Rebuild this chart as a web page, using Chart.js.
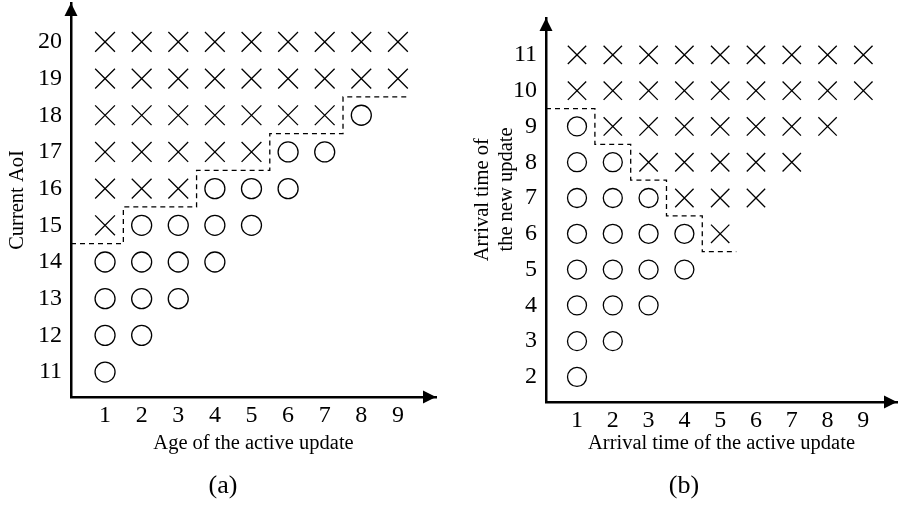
<html>
<head>
    <title>AoI decision regions</title>
    <script src="https://cdn.jsdelivr.net/npm/chart.js"></script>
    <style>
        body { margin: 0; background: white; }
        .panel { position: absolute; top: 0; }
    </style>
</head>
<body>
    <div class="panel" style="left:0px"><canvas id="chart_a" width="449" height="508"></canvas></div>
    <div class="panel" style="left:449px"><canvas id="chart_b" width="449" height="508"></canvas></div>

<script>
    // (a) current AoI against age of the active update
    const age_ticks = [1, 2, 3, 4, 5, 6, 7, 8, 9];
    const aoi_ticks = [11, 12, 13, 14, 15, 16, 17, 18, 19, 20];
    // one entry per AoI row (11..20): columns holding a circle / a cross
    const aoi_circles = [[1], [1, 2], [1, 2, 3], [1, 2, 3, 4], [2, 3, 4, 5], [4, 5, 6], [6, 7], [8], [], []];
    const aoi_crosses = [[], [], [], [], [1], [1, 2, 3], [1, 2, 3, 4, 5], [1, 2, 3, 4, 5, 6, 7],
                         [1, 2, 3, 4, 5, 6, 7, 8, 9], [1, 2, 3, 4, 5, 6, 7, 8, 9]];
    const aoi_edge_x = [0.07, 1.5, 3.5, 5.5, 7.5, 9.33];
    const aoi_edge_y = [14.5, 15.5, 16.5, 17.5, 18.5, 18.5];

    // (b) arrival time of the new update against arrival time of the active update
    const active_ticks = [1, 2, 3, 4, 5, 6, 7, 8, 9];
    const new_ticks = [2, 3, 4, 5, 6, 7, 8, 9, 10, 11];
    const new_circles = [[1], [1, 2], [1, 2, 3], [1, 2, 3, 4], [1, 2, 3, 4], [1, 2, 3], [1, 2], [1], [], []];
    const new_crosses = [[], [], [], [], [5], [4, 5, 6], [3, 4, 5, 6, 7], [2, 3, 4, 5, 6, 7, 8],
                         [1, 2, 3, 4, 5, 6, 7, 8, 9], [1, 2, 3, 4, 5, 6, 7, 8, 9]];
    const new_edge_x = [0.134, 1.5, 2.5, 3.5, 4.5, 5.45];
    const new_edge_y = [9.5, 8.5, 7.5, 6.5, 5.5, 5.5];

    const serif = "'Liberation Serif', 'Times New Roman', serif";
    const nb = n => "\u00a0".repeat(n);

    function to_points(rows, cols) {
        return cols.flatMap((list, i) => list.map(c => ({ x: c, y: rows[i] })));
    }

    // black arrow heads at the ends of both axes
    const axis_arrows = {
        id: "axis_arrows",
        afterDraw(chart) {
            const { ctx, chartArea: { left, top, right, bottom } } = chart;
            ctx.save();
            ctx.fillStyle = "black";
            ctx.beginPath();
            ctx.moveTo(left, top);
            ctx.lineTo(left - 6.5, top + 13);
            ctx.lineTo(left + 6.5, top + 13);
            ctx.closePath();
            ctx.fill();
            ctx.beginPath();
            ctx.moveTo(right, bottom);
            ctx.lineTo(right - 13, bottom - 6.5);
            ctx.lineTo(right - 13, bottom + 6.5);
            ctx.closePath();
            ctx.fill();
            ctx.restore();
        }
    };

    function make_panel(id, p) {
        const ctx = document.getElementById(id).getContext("2d");
        return new Chart(ctx, {
            type: "scatter",
            data: {
                datasets: [
                    {
                        data: p.edge_x.map((x, i) => ({ x: x, y: p.edge_y[i] })),
                        showLine: true,
                        stepped: true,
                        borderColor: "black",
                        borderWidth: 1.3,
                        borderDash: [5, 4],
                        pointRadius: 0,
                        fill: false
                    },
                    {
                        data: to_points(p.rows, p.crosses),
                        pointStyle: "crossRot",
                        pointRadius: p.cross_r,
                        borderColor: "black",
                        backgroundColor: "black",
                        borderWidth: 1.3
                    },
                    {
                        data: to_points(p.rows, p.circles),
                        pointStyle: "circle",
                        pointRadius: p.circle_r,
                        borderColor: "black",
                        backgroundColor: "white",
                        borderWidth: 1.3
                    }
                ]
            },
            options: {
                responsive: false,
                animation: false,
                events: [],
                layout: { padding: p.padding, autoPadding: false },
                plugins: {
                    legend: { display: false },
                    tooltip: { enabled: false },
                    title: {
                        display: true,
                        position: "bottom",
                        text: p.caption,
                        color: "black",
                        font: { family: serif, size: 26, weight: "normal" },
                        padding: { top: 0, bottom: 6 }
                    }
                },
                scales: {
                    x: {
                        type: "linear",
                        min: p.x_min,
                        max: p.x_max,
                        afterBuildTicks: s => { s.ticks = p.x_ticks.map(v => ({ value: v })); },
                        // fixed axis band, no extra room for end labels
                        afterFit: s => { s.height = p.x_height; s.paddingLeft = 0; s.paddingRight = 0; },
                        grid: { display: false, drawTicks: false },
                        border: { display: true, color: "black", width: 2.5 },
                        ticks: { color: "black", font: { family: serif, size: 24 }, padding: 4, maxRotation: 0 },
                        title: {
                            display: true,
                            text: p.x_title,
                            color: "black",
                            font: { family: serif, size: 20.5 },
                            padding: { top: 0, bottom: 15 }
                        }
                    },
                    y: {
                        type: "linear",
                        min: p.y_min,
                        max: p.y_max,
                        afterBuildTicks: s => { s.ticks = p.y_ticks.map(v => ({ value: v })); },
                        afterFit: s => { s.width = p.y_width; s.paddingTop = 0; s.paddingBottom = 0; },
                        grid: { display: false, drawTicks: false },
                        border: { display: true, color: "black", width: 2.5 },
                        ticks: { color: "black", font: { family: serif, size: 24 }, padding: 9 },
                        title: {
                            display: true,
                            text: p.y_title,
                            color: "black",
                            font: { family: serif, size: 20.5, lineHeight: 1.17 },
                            padding: { top: p.y_title_pad, bottom: 0 }
                        }
                    }
                }
            },
            plugins: [axis_arrows]
        });
    }

    make_panel("chart_a", {
        rows: aoi_ticks, circles: aoi_circles, crosses: aoi_crosses,
        edge_x: aoi_edge_x, edge_y: aoi_edge_y,
        x_ticks: age_ticks, y_ticks: aoi_ticks,
        x_min: 0.07, x_max: 10.04, y_min: 10.32, y_max: 21.06,
        x_title: "Age of the active update", y_title: "Current AoI", caption: "(a)",
        padding: { left: 10, right: 13, top: 3, bottom: 0 },
        x_height: 73.8, y_width: 61, y_title_pad: -4,
        cross_r: 14, circle_r: 10
    });

    // leading spaces push both title lines up so they end level
    make_panel("chart_b", {
        rows: new_ticks, circles: new_circles, crosses: new_crosses,
        edge_x: new_edge_x, edge_y: new_edge_y,
        x_ticks: active_ticks, y_ticks: new_ticks,
        x_min: 0.134, x_max: 9.94, y_min: 1.30, y_max: 12.03,
        x_title: "Arrival time of the active update",
        y_title: [nb(4) + "Arrival time of", nb(8) + "the new update"],
        caption: "(b)",
        padding: { left: 22, right: 1, top: 18, bottom: 0 },
        x_height: 68.8, y_width: 75, y_title_pad: 0,
        cross_r: 13, circle_r: 9.5
    });
</script>
</body>
</html>
